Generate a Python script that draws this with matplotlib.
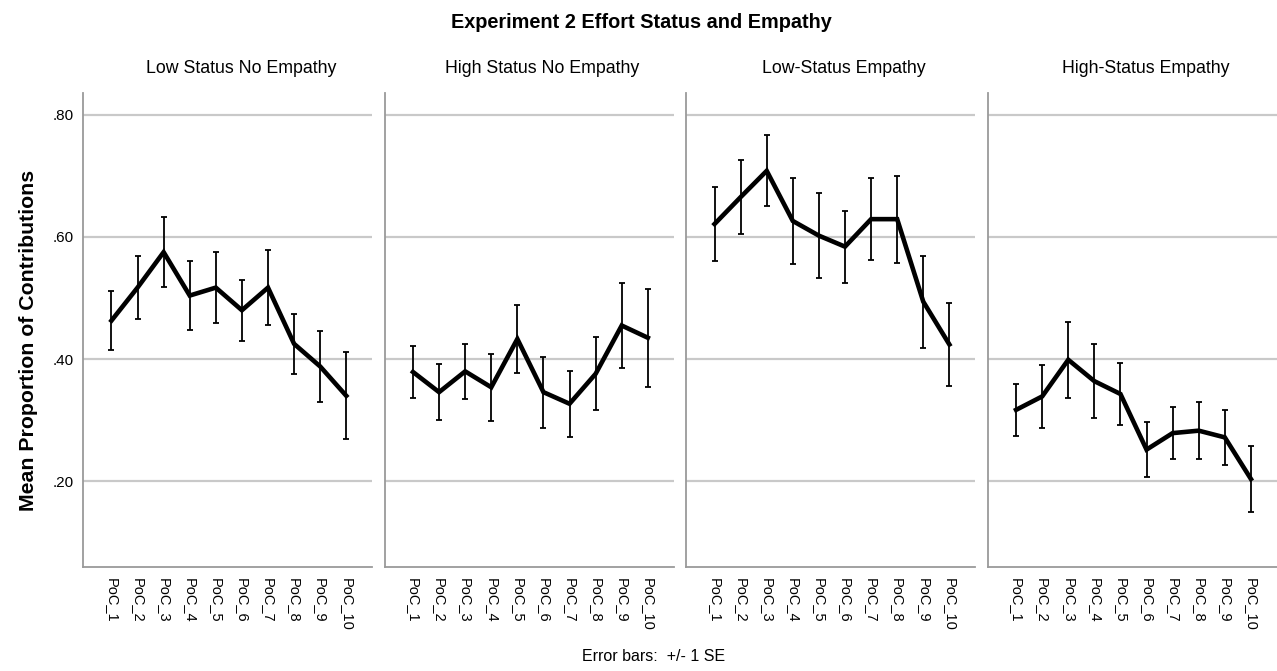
import numpy as np
import matplotlib.pyplot as plt

plt.rcParams['font.family'] = ['Liberation Sans', 'DejaVu Sans']

conditions = ['Low Status No Empathy', 'High Status No Empathy',
              'Low-Status Empathy', 'High-Status Empathy']
rounds = ['PoC_1', 'PoC_2', 'PoC_3', 'PoC_4', 'PoC_5',
          'PoC_6', 'PoC_7', 'PoC_8', 'PoC_9', 'PoC_10']

low_no_emp_mean = [0.463, 0.517, 0.575, 0.504, 0.517, 0.480, 0.517, 0.425, 0.388, 0.340]
low_no_emp_se = [0.048, 0.051, 0.057, 0.057, 0.058, 0.050, 0.061, 0.049, 0.058, 0.071]

high_no_emp_mean = [0.379, 0.346, 0.380, 0.354, 0.433, 0.346, 0.327, 0.376, 0.455, 0.435]
high_no_emp_se = [0.042, 0.046, 0.045, 0.055, 0.056, 0.058, 0.054, 0.060, 0.070, 0.080]

low_emp_mean = [0.621, 0.665, 0.708, 0.626, 0.602, 0.584, 0.629, 0.629, 0.494, 0.424]
low_emp_se = [0.061, 0.060, 0.058, 0.070, 0.070, 0.059, 0.067, 0.071, 0.075, 0.068]

high_emp_mean = [0.317, 0.339, 0.399, 0.364, 0.343, 0.252, 0.279, 0.283, 0.272, 0.204]
high_emp_se = [0.042, 0.052, 0.062, 0.060, 0.050, 0.045, 0.043, 0.047, 0.045, 0.054]

y_ticks = [0.20, 0.40, 0.60, 0.80]
y_tick_labels = ['.20', '.40', '.60', '.80']

GRID_COLOR = '#c9c9c9'
SPINE_COLOR = '#9a9a9a'


def plot_panel(ax, mean, se, title):
    x = np.arange(1, len(rounds) + 1)
    for y in y_ticks:
        ax.axhline(y, color=GRID_COLOR, lw=1.6, zorder=0)
    ax.errorbar(x, mean, yerr=se, fmt='none', ecolor='black', elinewidth=1.3,
                capsize=2.2, capthick=1.3, zorder=2)
    ax.plot(x, mean, color='black', lw=3.3, solid_joinstyle='miter', zorder=3)

    ax.set_xlim(-0.08, 11.0)
    ax.set_ylim(0.060, 0.836)
    ax.set_xticks(x)
    ax.set_xticklabels(rounds, rotation=270, fontsize=10.5)
    ax.tick_params(axis='x', length=0, pad=8)
    ax.tick_params(axis='y', length=0, pad=7, labelsize=11)
    # SPSS puts the panel titles a little right of centre
    ax.set_title(title, fontsize=12.8, pad=14, x=0.545)

    for side in ['top', 'right']:
        ax.spines[side].set_visible(False)
    for side in ['left', 'bottom']:
        ax.spines[side].set_color(SPINE_COLOR)
        ax.spines[side].set_linewidth(1.3)


fig, axes = plt.subplots(1, 4, figsize=(12.77, 6.71), dpi=100, sharey=True)
fig.subplots_adjust(left=0.0652, right=1.0, bottom=0.155, top=0.862, wspace=0.043)

plot_panel(axes[0], low_no_emp_mean, low_no_emp_se, conditions[0])
plot_panel(axes[1], high_no_emp_mean, high_no_emp_se, conditions[1])
plot_panel(axes[2], low_emp_mean, low_emp_se, conditions[2])
plot_panel(axes[3], high_emp_mean, high_emp_se, conditions[3])

axes[0].set_yticks(y_ticks)
axes[0].set_yticklabels(y_tick_labels)
for ax in axes[1:]:
    ax.tick_params(axis='y', labelleft=False)

axes[0].set_ylabel('Mean Proportion of Contributions', fontsize=15.3,
                   fontweight='bold')
axes[0].yaxis.set_label_coords(-0.158, 0.477)

fig.text(0.502, 0.967, 'Experiment 2 Effort Status and Empathy',
         ha='center', va='center', fontsize=14.3, fontweight='bold')
fig.text(0.512, 0.021, 'Error bars:  +/- 1 SE', ha='center', va='center',
         fontsize=11.5)

fig.savefig('out.png', dpi=100)
